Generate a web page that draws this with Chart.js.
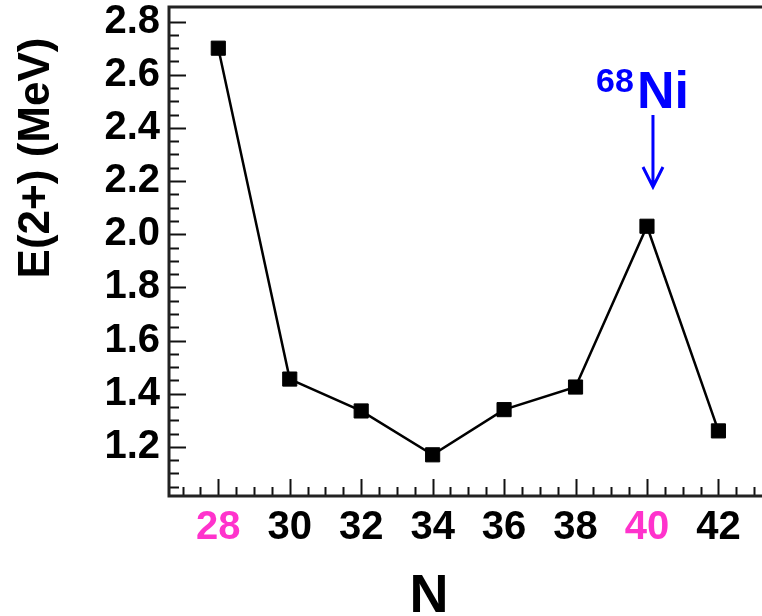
<!DOCTYPE html>
<html>
<head>
<meta charset="utf-8">
<script src="https://cdn.jsdelivr.net/npm/chart.js@4/dist/chart.umd.min.js"></script>
<style>
  html, body { margin: 0; padding: 0; background: #fff; overflow: hidden; }
  #wrap { width: 762px; height: 616px; position: relative; }
</style>
</head>
<body>
<div id="wrap"><canvas id="grafico"></canvas></div>
<script>
// valores
var neutrons = [28, 30, 32, 34, 36, 38, 40, 42];
var energias = [2.70, 1.455, 1.335, 1.17, 1.34, 1.425, 2.03, 1.26];
var xTicks = [28, 30, 32, 34, 36, 38, 40, 42];
var yTicks = [1.2, 1.4, 1.6, 1.8, 2.0, 2.2, 2.4, 2.6, 2.8];
var destaque = [28, 40];   // numeros magicos em rosa

var fonte = "'Liberation Sans', Arial, Helvetica, sans-serif";
var pontos = [];
for (var i = 0; i < neutrons.length; i++) pontos.push({ x: neutrons[i], y: energias[i] });

// moldura, ticks para dentro, titulos e anotacao do 68Ni
var extras = {
  id: 'extras',
  afterDraw: function (chart) {
    var ctx = chart.ctx;
    var a = chart.chartArea;
    var xs = chart.scales.x, ys = chart.scales.y;
    ctx.save();

    ctx.strokeStyle = '#111';
    ctx.lineWidth = 2;
    // ticks do eixo x (0.5 em 0.5, maior a cada 2)
    for (var v = 27; v <= 43; v += 0.5) {
      var px = Math.round(xs.getPixelForValue(v)) + 0.5;
      var len = (v % 2 === 0) ? 17 : 9;
      ctx.beginPath(); ctx.moveTo(px, a.bottom); ctx.lineTo(px, a.bottom - len); ctx.stroke();
    }
    // ticks do eixo y (0.05 em 0.05, maior a cada 0.2)
    for (var k = 21; k <= 57; k++) {
      var val = k * 0.05;
      var py = Math.round(ys.getPixelForValue(val)) + 0.5;
      if (py < a.top + 2) continue;
      var maior = (k % 4 === 0);
      ctx.beginPath(); ctx.moveTo(a.left, py); ctx.lineTo(a.left + (maior ? 17 : 10), py); ctx.stroke();
    }

    // moldura
    ctx.lineWidth = 3;
    ctx.strokeStyle = '#222';
    ctx.beginPath();
    ctx.moveTo(chart.width, a.top); ctx.lineTo(a.left, a.top);
    ctx.lineTo(a.left, a.bottom); ctx.lineTo(chart.width, a.bottom);
    ctx.stroke();

    // titulo y
    ctx.fillStyle = '#000';
    ctx.font = 'bold 44px ' + fonte;
    ctx.textAlign = 'center';
    ctx.textBaseline = 'middle';
    ctx.save();
    ctx.translate(37, 158);
    ctx.rotate(-Math.PI / 2);
    ctx.fillText('E(2+) (MeV)', 0, 0);
    ctx.restore();

    // titulo x
    ctx.font = 'bold 54px ' + fonte;
    ctx.textBaseline = 'alphabetic';
    ctx.fillText('N', 429, 612);

    // anotacao 68Ni
    var ax = xs.getPixelForValue(40) + 6;
    ctx.fillStyle = '#0000ff';
    ctx.strokeStyle = '#0000ff';
    ctx.textAlign = 'left';
    ctx.font = 'bold 34px ' + fonte;
    ctx.fillText('68', 596, 92);
    ctx.font = 'bold 52px ' + fonte;
    ctx.fillText('Ni', 637, 108);
    ctx.lineWidth = 3;
    ctx.beginPath();
    ctx.moveTo(ax, 115); ctx.lineTo(ax, 187);
    ctx.moveTo(ax - 10, 167); ctx.lineTo(ax, 187); ctx.lineTo(ax + 10, 167);
    ctx.stroke();

    ctx.restore();
  }
};

geraGrafico(document.getElementById('grafico'));

function geraGrafico(ctx) {
  Chart.defaults.font.family = fonte;
  var chartGraph = new Chart(ctx, {
    type: 'line',
    data: {
      datasets: [{
        data: pontos,
        borderColor: '#000',
        borderWidth: 2.5,
        backgroundColor: '#000',
        pointStyle: 'rect',
        pointRadius: 10,
        pointBorderWidth: 1,
        tension: 0
      }]
    },
    plugins: [extras],
    options: {
      responsive: true,
      maintainAspectRatio: false,
      animation: false,
      layout: { autoPadding: false, padding: { top: 7, left: 0, right: 0, bottom: 0 } },
      plugins: { legend: { display: false }, tooltip: { enabled: false } },
      scales: {
        x: {
          type: 'linear',
          min: 26.62,
          max: 43.22,
          grid: { display: false, drawTicks: false },
          border: { display: false },
          afterBuildTicks: function (s) { s.ticks = xTicks.map(function (v) { return { value: v }; }); },
          afterFit: function (s) { s.height = 120; s.paddingLeft = 0; s.paddingRight = 0; },
          ticks: {
            padding: 8,
            autoSkip: false,
            maxRotation: 0,
            font: { size: 40, weight: 'bold' },
            color: function (c) { return destaque.indexOf(c.tick.value) >= 0 ? '#ff33cc' : '#000'; },
            callback: function (v) { return String(v); }
          }
        },
        y: {
          min: 1.015,
          max: 2.855,
          grid: { display: false, drawTicks: false },
          border: { display: false },
          afterBuildTicks: function (s) { s.ticks = yTicks.map(function (v) { return { value: v }; }); },
          afterFit: function (s) { s.width = 169; s.paddingTop = 0; s.paddingBottom = 0; },
          ticks: {
            padding: 9,
            autoSkip: false,
            font: { size: 40, weight: 'bold' },
            color: '#000',
            callback: function (v) { return v.toFixed(1); }
          }
        }
      }
    }
  });
}
</script>
</body>
</html>
